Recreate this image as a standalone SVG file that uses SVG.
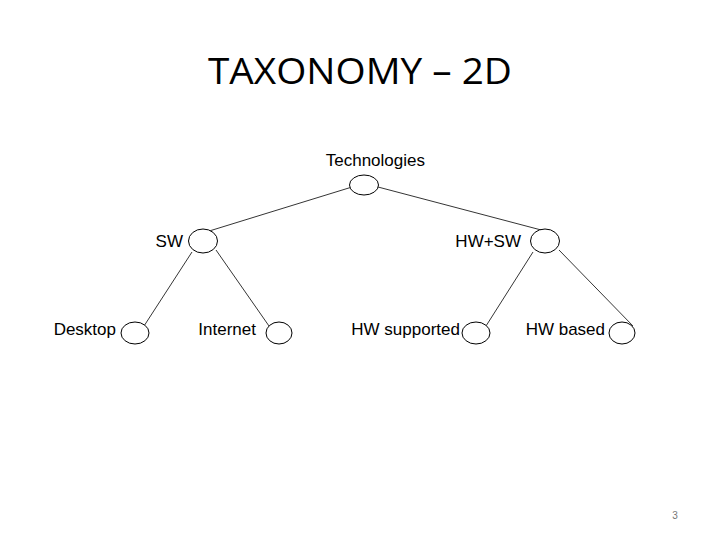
<svg xmlns="http://www.w3.org/2000/svg" width="720" height="540" viewBox="0 0 720 540">
<style>
.n{fill:#fff;stroke:#000;stroke-width:1}
.l{font-family:"Liberation Sans",Arial,sans-serif;font-size:17px;fill:#000;text-anchor:end}
#edges line{stroke:#000;stroke-width:0.8}
</style>
<rect width="720" height="540" fill="#fff"/>
<text x="360" y="84" font-family="'Open Sans','Liberation Sans',sans-serif" font-size="36" text-anchor="middle" textLength="304" lengthAdjust="spacingAndGlyphs">TAXONOMY – 2D</text>
<g id="edges">
<line x1="352" y1="187" x2="206" y2="232"/>
<line x1="378" y1="187" x2="545" y2="231"/>
<line x1="192" y1="252" x2="144" y2="326"/>
<line x1="216" y1="250" x2="269" y2="326"/>
<line x1="533" y1="252" x2="486" y2="326"/>
<line x1="559" y1="250" x2="633" y2="326"/>
</g>
<g id="technologies"><ellipse class="n" cx="364" cy="185" rx="14.5" ry="10"/><text class="l" x="425" y="166">Technologies</text></g>
<g id="sw"><ellipse class="n" cx="203" cy="241" rx="14.5" ry="12"/><text class="l" x="183" y="247">SW</text></g>
<g id="hwsw"><ellipse class="n" cx="545" cy="241" rx="14.5" ry="12"/><text class="l" x="521" y="247">HW+SW</text></g>
<g id="desktop"><ellipse class="n" cx="135" cy="333" rx="14" ry="11"/><text class="l" x="116" y="335">Desktop</text></g>
<g id="internet"><ellipse class="n" cx="279" cy="333" rx="13" ry="11"/><text class="l" x="256" y="335">Internet</text></g>
<g id="hwsupported"><ellipse class="n" cx="476" cy="333" rx="14" ry="11"/><text class="l" x="460" y="335">HW supported</text></g>
<g id="hwbased"><ellipse class="n" cx="622" cy="333" rx="13" ry="11"/><text class="l" x="605" y="335">HW based</text></g>
<text x="675" y="519" font-family="'Liberation Sans',sans-serif" font-size="10" fill="#777" text-anchor="middle">3</text>
</svg>
